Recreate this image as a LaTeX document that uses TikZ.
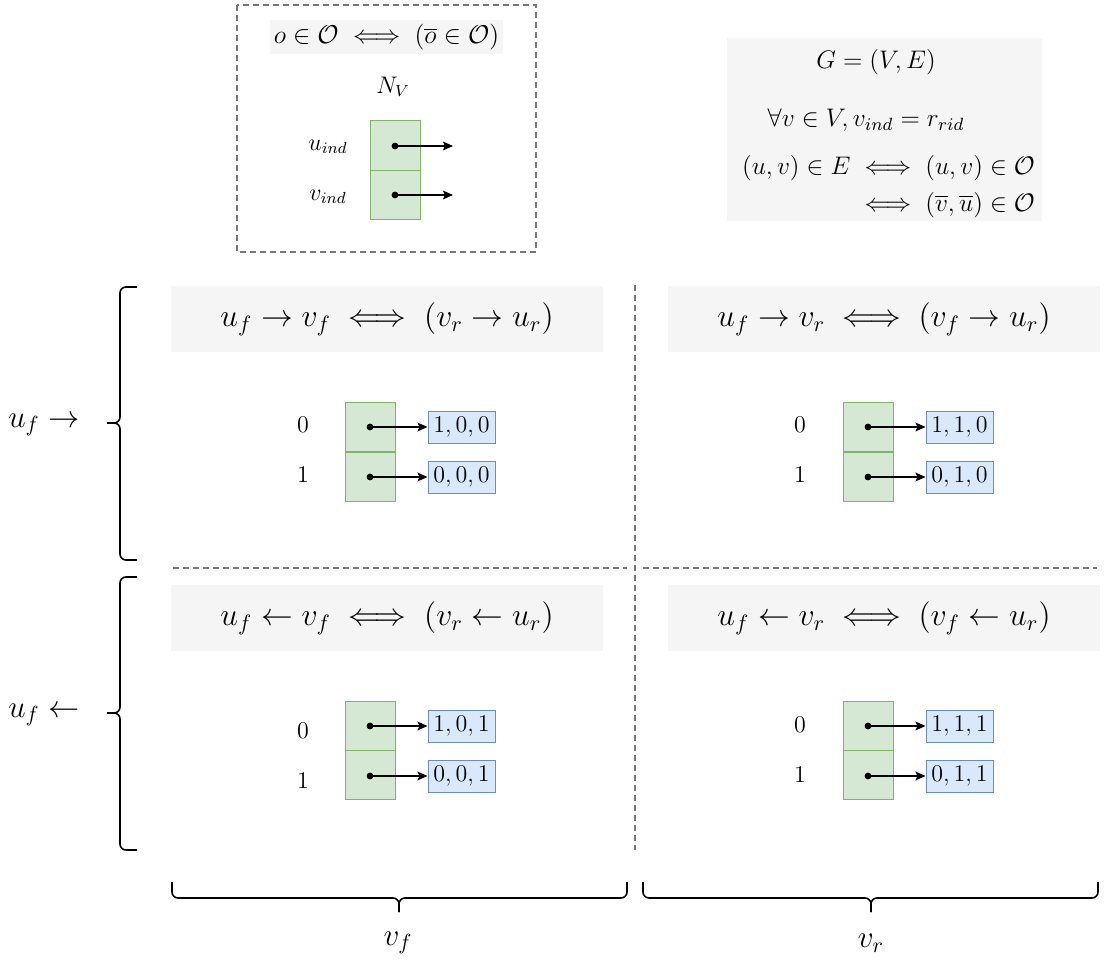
\RequirePackage{fix-cm}
\documentclass[tikz,border=0pt]{standalone}
\usepackage{amsmath}
\usetikzlibrary{arrows.meta}
\definecolor{graybg}{HTML}{F5F5F5}
\definecolor{greenfill}{HTML}{D5E8D4}
\definecolor{greendraw}{HTML}{82B366}
\definecolor{bluefill}{HTML}{DAE8FC}
\definecolor{bluedraw}{HTML}{6C8EBF}
\definecolor{dashgray}{HTML}{777777}
\begin{document}
\begin{tikzpicture}[x=0.5pt,y=-0.5pt,
  titlebox/.style={fill=graybg, inner sep=0pt, minimum width=216pt, minimum height=33pt, font=\fontsize{15.85}{19}\selectfont},
  smalltext/.style={inner sep=0pt, font=\fontsize{12}{14.4}\selectfont},
  rtext/.style={inner sep=0pt, font=\fontsize{12.7}{15.5}\selectfont},
  digit/.style={inner sep=0pt, font=\fontsize{12}{14.4}\selectfont},
  bigtext/.style={inner sep=0pt, font=\fontsize{15.6}{18.7}\selectfont},
  cell/.style={draw=greendraw, fill=greenfill, line width=0.5pt, minimum width=25pt, minimum height=24.5pt, inner sep=0pt},
  valbox/.style={draw=bluedraw, fill=bluefill, line width=0.5pt, minimum width=33.5pt, minimum height=16pt, inner sep=0pt, font=\fontsize{12}{14.4}\selectfont},
  ptr/.style={line width=0.75pt, -{Stealth[length=5pt,width=4.4pt,inset=1pt]}},
  dot/.style={circle, fill=black, inner sep=0pt, minimum size=3.4pt},
  sep/.style={draw=dashgray, line width=0.6pt, dash pattern=on 3pt off 2pt},
  bracestyle/.style={line width=0.8pt, rounded corners=3pt}
]
\useasboundingbox (0,0) rectangle (1108,963);

% ---------- top-left dashed box ----------
\draw[sep] (237,5) rectangle (536,252);
\node[fill=graybg, minimum width=116.5pt, minimum height=17pt, inner sep=0pt, font=\fontsize{12.9}{15.5}\selectfont] (obar) at (386.5,37) {$o \in \mathcal{O} \iff (\overline{o} \in \mathcal{O})$};
\node[smalltext] (NV) at (393,87) {$N_V$};
\node[cell] (nc1) at (395,145.5) {};
\node[cell] (nc2) at (395,194.5) {};
\node[smalltext] (uind) at (328,147) {$u_{ind}$};
\node[smalltext] (vind) at (328,197) {$v_{ind}$};
\node[dot] (nd1) at (395,146) {};
\node[dot] (nd2) at (395,195) {};
\coordinate (ne1) at (453,146);
\coordinate (ne2) at (453,195);
\draw[ptr] (nd1.center) -- (ne1);
\draw[ptr] (nd2.center) -- (ne2);

% ---------- top-right gray box ----------
\node[fill=graybg, minimum width=157.5pt, minimum height=91.5pt, inner sep=0pt] (gbox) at (884.5,129.5) {};
\node[rtext] (G) at (876,62) {$G = (V, E)$};
\node[rtext] (forall) at (866,120) {$\forall v \in V, v_{ind} = r_{rid}$};
\node[rtext] (equiv) at (888.5,186.5) {$\begin{aligned}(u,v) \in E &\iff (u,v) \in \mathcal{O}\\ &\iff (\overline{v},\overline{u}) \in \mathcal{O}\end{aligned}$};

% ---------- separators ----------
\draw[sep] (635,285) -- (635,850);
\draw[sep] (173,568) -- (627,568);
\draw[sep] (643,568) -- (1097,568);

% ---------- quadrant titles ----------
\node[titlebox] (t1) at (387,319) {$u_f \to v_f \iff (v_r \to u_r)$};
\node[titlebox] (t2) at (884,319) {$u_f \to v_r \iff (v_f \to u_r)$};
\node[titlebox] (t3) at (387,618) {$u_f \leftarrow v_f \iff (v_r \leftarrow u_r)$};
\node[titlebox] (t4) at (884,618) {$u_f \leftarrow v_r \iff (v_f \leftarrow u_r)$};

% ---------- quadrant arrays ----------
% top-left
\node[cell] (a1) at (370,427) {};
\node[cell] (a2) at (370,476.5) {};
\node[digit] (la1) at (303,425) {$0$};
\node[digit] (la2) at (303,475) {$1$};
\node[valbox] (va1) at (461.5,427) {$1,0,0$};
\node[valbox] (va2) at (461.5,477) {$0,0,0$};
\node[dot] (da1) at (370,427) {};
\node[dot] (da2) at (370,477) {};
\draw[ptr] (da1.center) -- (va1.west);
\draw[ptr] (da2.center) -- (va2.west);
% top-right
\node[cell] (b1) at (868,427) {};
\node[cell] (b2) at (868,476.5) {};
\node[digit] (lb1) at (800,425) {$0$};
\node[digit] (lb2) at (800,475) {$1$};
\node[valbox] (vb1) at (959.5,427) {$1,1,0$};
\node[valbox] (vb2) at (959.5,477) {$0,1,0$};
\node[dot] (db1) at (868,427) {};
\node[dot] (db2) at (868,477) {};
\draw[ptr] (db1.center) -- (vb1.west);
\draw[ptr] (db2.center) -- (vb2.west);
% bottom-left
\node[cell] (c1) at (370,725.5) {};
\node[cell] (c2) at (370,775) {};
\node[digit] (lc1) at (303,731) {$0$};
\node[digit] (lc2) at (303,781) {$1$};
\node[valbox] (vc1) at (461.5,726) {$1,0,1$};
\node[valbox] (vc2) at (461.5,776) {$0,0,1$};
\node[dot] (dc1) at (370,726) {};
\node[dot] (dc2) at (370,776) {};
\draw[ptr] (dc1.center) -- (vc1.west);
\draw[ptr] (dc2.center) -- (vc2.west);
% bottom-right
\node[cell] (e1) at (868,725.5) {};
\node[cell] (e2) at (868,775) {};
\node[digit] (le1) at (800,725) {$0$};
\node[digit] (le2) at (800,775) {$1$};
\node[valbox] (ve1) at (959.5,726) {$1,1,1$};
\node[valbox] (ve2) at (959.5,776) {$0,1,1$};
\node[dot] (de1) at (868,726) {};
\node[dot] (de2) at (868,776) {};
\draw[ptr] (de1.center) -- (ve1.west);
\draw[ptr] (de2.center) -- (ve2.west);

% ---------- braces ----------
% left, upper (u_f ->)
\draw[bracestyle] (137,287) -- (120,287) -- (120,423) -- (107,423);
\draw[bracestyle] (137,560) -- (120,560) -- (120,423) -- (107,423);
% left, lower (u_f <-)
\draw[bracestyle] (137,577) -- (120,577) -- (120,713) -- (107,713);
\draw[bracestyle] (137,850) -- (120,850) -- (120,713) -- (107,713);
% bottom, v_f
\draw[bracestyle] (172,882) -- (172,898) -- (399,898) -- (399,912);
\draw[bracestyle] (627,882) -- (627,898) -- (399,898) -- (399,912);
% bottom, v_r
\draw[bracestyle] (643,882) -- (643,898) -- (871,898) -- (871,912);
\draw[bracestyle] (1098,882) -- (1098,898) -- (871,898) -- (871,912);

\node[bigtext] (lf) at (44,425) {$u_f \to$};
\node[bigtext] (lb) at (44,715) {$u_f \leftarrow$};
\node[bigtext] (lvf) at (398,943) {$v_f$};
\node[bigtext] (lvr) at (871,943) {$v_r$};
\end{tikzpicture}
\end{document}
